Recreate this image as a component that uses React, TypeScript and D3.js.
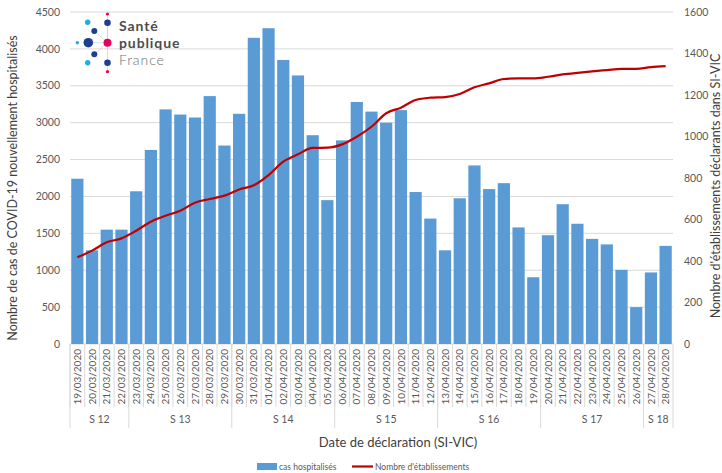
import React from 'react';
import * as d3 from 'd3';

const dates = [
  '19/03/2020', '20/03/2020', '21/03/2020', '22/03/2020', '23/03/2020', '24/03/2020', '25/03/2020',
  '26/03/2020', '27/03/2020', '28/03/2020', '29/03/2020', '30/03/2020', '31/03/2020', '01/04/2020',
  '02/04/2020', '03/04/2020', '04/04/2020', '05/04/2020', '06/04/2020', '07/04/2020', '08/04/2020',
  '09/04/2020', '10/04/2020', '11/04/2020', '12/04/2020', '13/04/2020', '14/04/2020', '15/04/2020',
  '16/04/2020', '17/04/2020', '18/04/2020', '19/04/2020', '20/04/2020', '21/04/2020', '22/04/2020',
  '23/04/2020', '24/04/2020', '25/04/2020', '26/04/2020', '27/04/2020', '28/04/2020',
];

// cas hospitalisés (left axis)
const cases = [
  2240, 1270, 1550, 1550, 2070, 2630, 3180, 3110, 3070, 3360,
  2690, 3120, 4150, 4280, 3850, 3640, 2830, 1950, 2760, 3280,
  3150, 3000, 3170, 2060, 1700, 1270, 1975, 2420, 2100, 2180,
  1580, 905, 1475, 1895, 1630, 1425, 1350, 1005, 500, 970, 1330,
];

// Nombre d'établissements (right axis)
const establishments = [
  418, 450, 490, 509, 546, 589, 618, 642, 681, 699,
  715, 745, 765, 814, 879, 914, 945, 946, 962, 999,
  1047, 1112, 1139, 1176, 1187, 1190, 1205, 1237, 1256, 1277,
  1280, 1280, 1288, 1299, 1307, 1314, 1320, 1326, 1326, 1334, 1339,
];

const weekLabels = ['S 12', 'S 13', 'S 14', 'S 15', 'S 16', 'S 17', 'S 18'];
const weekLengths = [4, 7, 7, 7, 7, 7, 2];

const leftTicks = [0, 500, 1000, 1500, 2000, 2500, 3000, 3500, 4000, 4500];
const rightTicks = [0, 200, 400, 600, 800, 1000, 1200, 1400, 1600];

const FONT = 'Lato, "Open Sans", sans-serif';
const GRAY = '#595959';
const GRID = '#d9d9d9';

function Logo() {
  // Santé publique France logo, approximated
  const dots = [
    { x: 107.5, y: 14, r: 1.6, c: '#e5005b' },
    { x: 107.5, y: 22.7, r: 3.3, c: '#1d3f8f' },
    { x: 87.7, y: 22.3, r: 2.7, c: '#1eaee6' },
    { x: 94.3, y: 31, r: 3, c: '#1d3f8f' },
    { x: 77.3, y: 42.7, r: 1.7, c: '#1eaee6' },
    { x: 88.3, y: 42.7, r: 4.8, c: '#1d3f8f' },
    { x: 107.5, y: 42.7, r: 4, c: '#e5005b' },
    { x: 94.3, y: 54.3, r: 3, c: '#1d3f8f' },
    { x: 87.7, y: 62.7, r: 2.7, c: '#1eaee6' },
    { x: 107.5, y: 62.7, r: 3.3, c: '#1d3f8f' },
    { x: 107.5, y: 71.7, r: 1.6, c: '#e5005b' },
  ];
  return (
    <g>
      <line x1={107.5} x2={107.5} y1={14} y2={71.7} stroke="#c8c8c8" strokeWidth={0.6} />
      {[1, 3, 5, 7].map((i) => (
        <line key={i} x1={dots[i].x} y1={dots[i].y} x2={107.5} y2={42.7} stroke="#c8c8c8" strokeWidth={0.6} />
      ))}
      {dots.map((d, i) => (
        <circle key={i} cx={d.x} cy={d.y} r={d.r} fill={d.c} />
      ))}
      <text x={119} y={31} fontFamily={FONT} fontSize={14} fontWeight={700} letterSpacing={0.9} fill="#4d4d4d">Santé</text>
      <text x={119} y={48} fontFamily={FONT} fontSize={14} fontWeight={700} letterSpacing={0.9} fill="#4d4d4d">publique</text>
      <text x={119} y={65} fontFamily={FONT} fontSize={14} fontWeight={300} letterSpacing={0.9} fill="#6f6f6f">France</text>
    </g>
  );
}

export default function App() {
  const width = 722, height = 473;
  const left = 70, right = 673, top = 12, bottom = 344;

  const x = d3.scaleBand<string>().domain(dates).range([left, right]).paddingInner(0.17).paddingOuter(0.085);
  const xOuter = d3.scaleBand<string>().domain(dates).range([left, right]);
  const yL = d3.scaleLinear().domain([0, 4500]).range([bottom, top]);
  const yR = d3.scaleLinear().domain([0, 1600]).range([bottom, top]);

  const line = d3.line<number>()
    .x((_, i) => (xOuter(dates[i]) as number) + xOuter.bandwidth() / 2)
    .y((d) => yR(d))
    .curve(d3.curveMonotoneX);

  // week boundaries (index of first day of each week)
  const starts: number[] = [];
  let acc = 0;
  weekLengths.forEach((n) => { starts.push(acc); acc += n; });

  const bw = xOuter.bandwidth();

  return (
    <svg width={width} height={height} style={{ position: 'absolute', left: 0, top: 0, background: '#fff' }}>
      {/* gridlines */}
      {leftTicks.map((t) => (
        <line key={t} x1={left} x2={right} y1={yL(t)} y2={yL(t)} stroke={GRID} strokeWidth={1} />
      ))}

      {/* bars */}
      {cases.map((v, i) => (
        <rect key={i} x={x(dates[i])} y={yL(v)} width={x.bandwidth()} height={bottom - yL(v)} fill="#5b9bd5" />
      ))}

      {/* line */}
      <path d={line(establishments) || ''} fill="none" stroke="#c00000" strokeWidth={2.2} strokeLinejoin="round" />

      {/* category separators */}
      {dates.map((d, i) => (
        <line key={d} x1={left + i * bw} x2={left + i * bw} y1={bottom} y2={407} stroke={GRID} strokeWidth={1} />
      ))}
      {[...starts, dates.length].map((s) => (
        <line key={'w' + s} x1={left + s * bw} x2={left + s * bw} y1={bottom} y2={428} stroke={GRID} strokeWidth={1} />
      ))}

      {/* date labels */}
      {dates.map((d) => {
        const cx = (xOuter(d) as number) + bw / 2;
        return (
          <text key={d} transform={`translate(${cx + 3.6},349) rotate(-90)`} textAnchor="end"
            fontFamily={FONT} fontSize={10} fill={GRAY}>{d}</text>
        );
      })}

      {/* week labels */}
      {weekLabels.map((w, i) => (
        <text key={w} x={left + (starts[i] + weekLengths[i] / 2) * bw} y={423} textAnchor="middle"
          fontFamily={FONT} fontSize={10.5} fill={GRAY}>{w}</text>
      ))}

      {/* left axis labels */}
      {leftTicks.map((t) => (
        <text key={t} x={60} y={yL(t)} dy="0.35em" textAnchor="end" fontFamily={FONT} fontSize={10.5} fill={GRAY}>{t}</text>
      ))}
      {/* right axis labels */}
      {rightTicks.map((t) => (
        <text key={t} x={684} y={yR(t)} dy="0.35em" textAnchor="start" fontFamily={FONT} fontSize={10.5} fill={GRAY}>{t}</text>
      ))}

      {/* axis titles */}
      <text transform="translate(17,188) rotate(-90)" textAnchor="middle" fontFamily={FONT} fontSize={12.5} fill="#404040">
        Nombre de cas de COVID-19 nouvellement hospitalisés
      </text>
      <text transform="translate(720,186) rotate(-90)" textAnchor="middle" fontFamily={FONT} fontSize={12.5} fill="#404040">
        Nombre d'établissements déclarants dans SI-VIC
      </text>
      <text x={398} y={447} textAnchor="middle" fontFamily={FONT} fontSize={13} fill="#404040">
        Date de déclaration (SI-VIC)
      </text>

      {/* legend */}
      <rect x={257} y={463} width={20} height={7} fill="#5b9bd5" />
      <text x={279} y={470} fontFamily={FONT} fontSize={8.5} fill={GRAY}>cas hospitalisés</text>
      <line x1={352} x2={373} y1={466.5} y2={466.5} stroke="#c00000" strokeWidth={2.2} />
      <text x={375} y={470} fontFamily={FONT} fontSize={8.5} fill={GRAY}>Nombre d'établissements</text>

      <Logo />
    </svg>
  );
}
